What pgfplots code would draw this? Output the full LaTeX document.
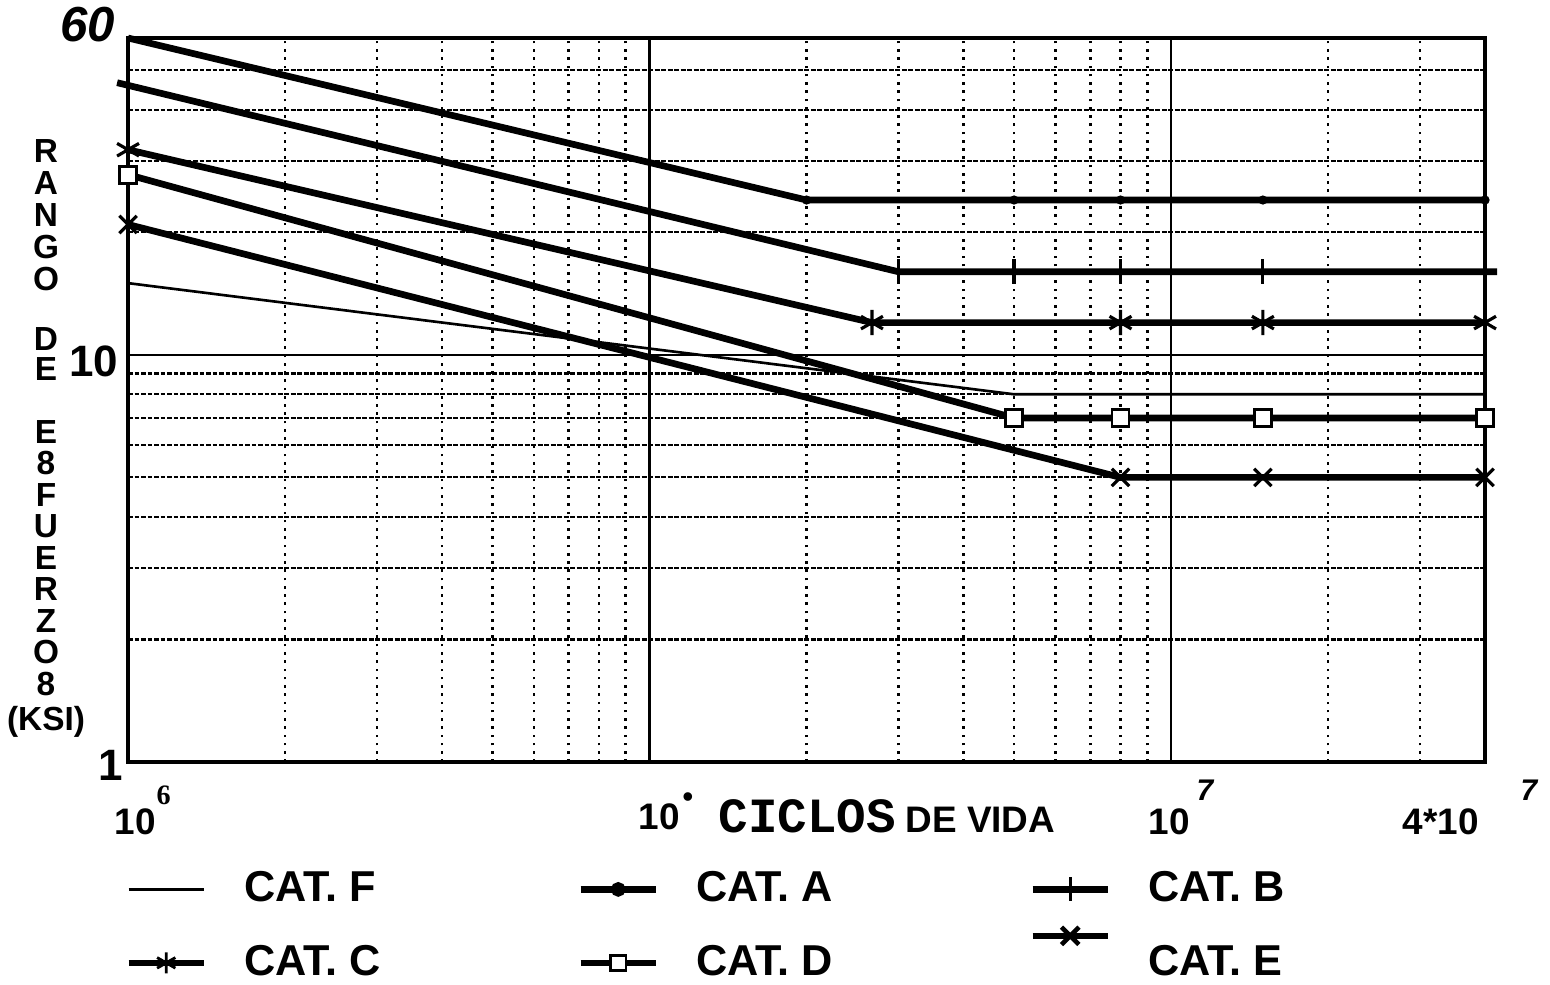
\documentclass[border=0pt]{standalone}
\usepackage{pgfplots}
\pgfplotsset{compat=1.18}
\usepackage{fontspec}
\setmainfont{Liberation Sans}
\newfontfamily\serifb{Liberation Serif}
\newfontfamily\monof{Liberation Mono}
\tikzset{lshift/.style={}}
\begin{document}
\begin{tikzpicture}
\path[use as bounding box] (-1.28,-2.22) rectangle (14.22,7.62);
\begin{axis}[
  at={(0,0)}, anchor=south west,
  scale only axis, width=13.57cm, height=7.24cm,
  xmode=log, ymode=log,
  xmin=1e5, xmax=4e7, ymin=1, ymax=60,
  xtick={1e5,1e6,1e7},
  minor xtick={2e5,3e5,4e5,5e5,6e5,7e5,8e5,9e5,2e6,3e6,4e6,5e6,6e6,7e6,8e6,9e6,2e7,3e7},
  ytick={1,10},
  minor ytick={2,3,4,5,6,7,8,9,20,30,40,50},
  clip=false,
  axis line style={line width=1pt},
  major tick length=0pt, minor tick length=0pt,
  xticklabels={}, yticklabels={},
  grid=both,
  major grid style={solid, black, line width=0.6pt},
  minor x grid style={black, line width=0.75pt, dash pattern=on 0.75pt off 1.6pt},
  minor y grid style={black, line width=0.6pt, dash pattern=on 1.4pt off 0.45pt},
  legend image code/.code={
    \path[draw=none,fill=none] (0mm,-1mm) (7.5mm,1mm);
    \draw[overlay,mark repeat=2,mark phase=2,#1,lshift] plot coordinates {(0mm,0mm) (3.75mm,0mm) (7.5mm,0mm)};},
  legend columns=3,
  legend cell align=left,
  legend style={draw=none, fill=none, inner sep=0pt, row sep=3.8mm,
    at={(rel axis cs:0.0,-0.1505)}, anchor=north west,
    nodes={inner sep=0pt, font=\bfseries\fontsize{12.3}{14}\selectfont},
    /tikz/every odd column/.append style={column sep=4.1mm},
    /tikz/every even column/.append style={column sep=3.6mm}},
]
% CAT. F
\addplot[forget plot, black, line width=0.75pt, line join=round, mark=none] coordinates {(1e5,15) (5e6,8) (4e7,8)};
% CAT. A
\addplot[forget plot, black, line width=1.9pt, line join=round, mark=none] coordinates {(1e5,60) (2e6,24) (4e7,24)};
\addplot[forget plot, black, only marks, mark=*, mark size=1.1pt] coordinates {(2e6,24) (5e6,24) (8e6,24) (1.5e7,24) (4e7,24)};
% CAT. B
\addplot[forget plot, black, line width=1.9pt, line join=round, mark=none] coordinates {(0.953e5,46.6) (3e6,16) (4.22e7,16)};
\addplot[forget plot, black, only marks, mark=|, mark size=3.5pt, mark options={line width=0.9pt}] coordinates {(3e6,16) (5e6,16) (8e6,16) (1.5e7,16)};
% CAT. C
\addplot[forget plot, black, line width=1.9pt, line join=round, mark=none] coordinates {(1e5,31.9) (2.67e6,12) (4e7,12)};
\addplot[forget plot, black, only marks, mark=asterisk, mark size=3.6pt, mark options={line width=0.9pt}] coordinates {(1e5,31.9) (2.67e6,12) (8e6,12) (1.5e7,12) (4e7,12)};
% CAT. D
\addplot[forget plot, black, line width=1.9pt, line join=round, mark=none] coordinates {(1e5,27.7) (5e6,7) (4e7,7)};
\addplot[forget plot, black, only marks, mark=square*, mark size=2.4pt, mark options={line width=0.8pt, fill=white}] coordinates {(1e5,27.7) (5e6,7) (8e6,7) (1.5e7,7) (4e7,7)};
% CAT. E
\addplot[forget plot, black, line width=1.9pt, line join=round, mark=none] coordinates {(1e5,20.9) (8e6,5) (4e7,5)};
\addplot[forget plot, black, only marks, mark=x, mark size=3.5pt, mark options={line width=0.9pt}] coordinates {(1e5,20.9) (8e6,5) (1.5e7,5) (4e7,5)};

\addlegendimage{black, line width=0.75pt}
\addlegendentry{\makebox[30mm][l]{CAT. F}}
\addlegendimage{black, line width=1.9pt, mark=*, mark size=1.1pt}
\addlegendentry{\makebox[30mm][l]{CAT. A}}
\addlegendimage{black, line width=1.9pt, mark=|, mark size=3.4pt, mark options={line width=0.9pt}}
\addlegendentry{\makebox[30mm][l]{CAT. B}}
\addlegendimage{black, line width=1.9pt, mark=asterisk, mark size=3pt, mark options={line width=0.8pt}}
\addlegendentry{\makebox[30mm][l]{CAT. C}}
\addlegendimage{black, line width=1.9pt, mark=square*, mark size=2.2pt, mark options={line width=0.8pt, fill=white}}
\addlegendentry{\makebox[30mm][l]{CAT. D}}
\addlegendimage{black, line width=1.9pt, mark=x, mark size=3.5pt, mark options={line width=1.3pt}, /tikz/lshift/.style={yshift=2.7mm}}
\addlegendentry{\makebox[30mm][l]{CAT. E}}
\end{axis}
% vertical stacked y label
\foreach \t/\y in {R/151,A/183,N/215,G/247,O/279,D/339,E/369,E/432,8/463,F/495,U/526,E/558,R/589,Z/621,O/652,8/684,(KSI)/722}
  \node[font=\bfseries\fontsize{9.5}{10}\selectfont, inner sep=0pt] at (-0.82,{(762-\y)/100}) {\t};
% y tick labels
\node[anchor=east, inner sep=0pt, font=\bfseries\fontsize{12.5}{14}\selectfont] at (-0.09,4.01) {10};
\node[anchor=east, inner sep=0pt, font=\bfseries\fontsize{12.5}{14}\selectfont] at (-0.04,-0.03) {1};
\node[inner sep=0pt, font=\bfseries\itshape\fontsize{14}{16}\selectfont] at (-0.40,7.37) {60};
% x tick labels
\node[anchor=base west, inner sep=0pt, font=\bfseries\fontsize{10.5}{12}\selectfont] at (-0.14,-0.72) {10};
\node[anchor=base west, inner sep=0pt, font=\serifb\bfseries\fontsize{8}{9}\selectfont] at (0.28,-0.42) {6};
\node[anchor=base west, inner sep=0pt, font=\bfseries\fontsize{10.5}{12}\selectfont] at (5.10,-0.67) {10};
\node[inner sep=0pt, font=\fontsize{9}{10}\selectfont] at (5.60,-0.38) {\textbullet};
\node[anchor=base west, inner sep=0pt, font=\bfseries\fontsize{10.5}{12}\selectfont] at (10.20,-0.72) {10};
\node[anchor=base west, inner sep=0pt, font=\bfseries\itshape\fontsize{8.5}{9}\selectfont] at (10.68,-0.38) {7};
\node[anchor=base west, inner sep=0pt, font=\bfseries\fontsize{10.5}{12}\selectfont] at (12.74,-0.72) {4*10};
\node[anchor=base west, inner sep=0pt, font=\bfseries\itshape\fontsize{8.5}{9}\selectfont] at (13.92,-0.38) {7};
\node[anchor=base west, inner sep=0pt] at (5.90,-0.70) {{\monof\bfseries\fontsize{14}{15}\selectfont CICLOS} {\bfseries\fontsize{10.5}{12}\selectfont DE VIDA}};
\end{tikzpicture}
\end{document}
